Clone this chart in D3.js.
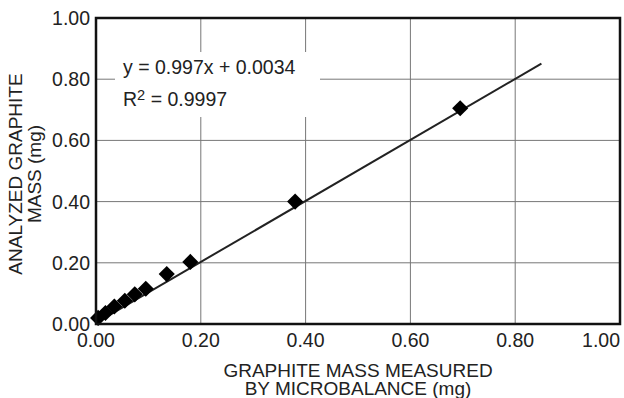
<!DOCTYPE html>
<html><head><meta charset="utf-8">
<script src="https://cdn.jsdelivr.net/npm/d3@7"></script>
<style>body{margin:0;background:#fff}svg{display:block}text{font-family:"Liberation Sans",Arial,sans-serif;fill:#222}</style>
</head><body>
<svg id="c" width="624" height="398"></svg>
<script>
const xValues=[0.004,0.018,0.035,0.055,0.074,0.095,0.135,0.18,0.38,0.695];
const yValues=[0.02,0.036,0.057,0.076,0.097,0.115,0.163,0.203,0.40,0.705];
const ticks=[0,0.2,0.4,0.6,0.8,1.0];
const slope=0.997, intercept=0.0034, fitMax=0.85;
const eqLine="y = 0.997x + 0.0034";
const r2Value="0.9997";
const xTitle=["GRAPHITE MASS MEASURED","BY MICROBALANCE (mg)"];
const yTitle=["ANALYZED GRAPHITE","MASS (mg)"];

const svg=d3.select("#c");
const L=96,R=620,T=18,B=324;
const FS=19.5;
const x=d3.scaleLinear().domain([0,1]).range([L,R]);
const y=d3.scaleLinear().domain([0,1]).range([B,T]);

// grid
svg.append("g").selectAll("line").data(ticks.slice(1,5)).join("line")
 .attr("x1",d=>x(d)).attr("x2",d=>x(d)).attr("y1",T).attr("y2",B)
 .attr("stroke","#777").attr("stroke-width",1);
svg.append("g").selectAll("line").data(ticks.slice(1,5)).join("line")
 .attr("y1",d=>y(d)).attr("y2",d=>y(d)).attr("x1",L).attr("x2",R)
 .attr("stroke","#777").attr("stroke-width",1);

// equation box
svg.append("rect").attr("x",115).attr("y",52).attr("width",205).attr("height",65).attr("fill","#fff");
svg.append("text").attr("x",123).attr("y",74).attr("font-size",FS).text(eqLine);
const r2=svg.append("text").attr("x",123).attr("y",106).attr("font-size",FS);
r2.append("tspan").text("R");
r2.append("tspan").attr("font-size",FS*0.75).attr("dy",-6).text("2");
r2.append("tspan").attr("dy",6).text(" = "+r2Value);

// fit line
svg.append("line").attr("x1",x(0)).attr("y1",y(intercept)).attr("x2",x(fitMax)).attr("y2",y(slope*fitMax+intercept))
 .attr("stroke","#222").attr("stroke-width",2);

// points
const pts=xValues.map((v,i)=>[v,yValues[i]]);
svg.append("g").selectAll("path").data(pts).join("path")
 .attr("d",d3.symbol(d3.symbolSquare,130))
 .attr("transform",d=>`translate(${x(d[0])},${y(d[1])}) rotate(45)`)
 .attr("fill","#000");

// frame
svg.append("rect").attr("x",L).attr("y",T).attr("width",R-L).attr("height",B-T)
 .attr("fill","none").attr("stroke","#111").attr("stroke-width",2.5);

// axes labels
const fmt=d3.format(".2f");
svg.append("g").selectAll("text").data(ticks).join("text")
 .attr("x",L-6).attr("y",d=>y(d)+7).attr("text-anchor","end").attr("font-size",FS).text(fmt);
svg.append("g").selectAll("text").data(ticks).join("text")
 .attr("x",(d,i)=>i===ticks.length-1?R:x(d)).attr("y",B+23)
 .attr("text-anchor",(d,i)=>i===ticks.length-1?"end":"middle").attr("font-size",FS).text(fmt);

svg.append("g").selectAll("text").data(xTitle).join("text")
 .attr("x",358).attr("y",(d,i)=>376.5+i*18.5).attr("text-anchor","middle").attr("font-size",19).text(d=>d);
svg.append("g").selectAll("text").data(yTitle).join("text")
 .attr("transform",(d,i)=>`translate(${22+i*19},174) rotate(-90)`)
 .attr("text-anchor","middle").attr("font-size",19).text(d=>d);
</script>
</body></html>
